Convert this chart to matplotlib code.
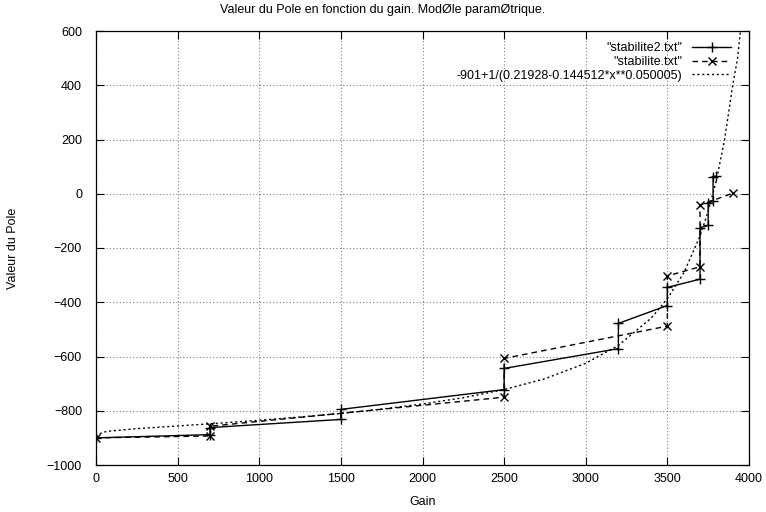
import matplotlib
matplotlib.use("Agg")
import matplotlib.pyplot as plt

# "stabilite2.txt"
gain2 = [0, 700, 700, 1500, 1500, 2500, 2500, 3200, 3200, 3500, 3500,
         3700, 3700, 3750, 3750, 3780, 3780, 3800]
pole2 = [-900, -888, -862, -832, -795, -722, -644, -571, -478, -412, -345,
         -315, -125, -117, -35, -27, 62, 65]

# "stabilite.txt"
gain1 = [0, 700, 700, 2500, 2500, 3500, 3500, 3700, 3700, 3900]
pole1 = [-900, -893, -857, -750, -607, -488, -303, -269, -42, 2]

# fitted model curve
fit_x = [0, 40, 100, 250, 500, 750, 1000, 1250, 1500, 1750, 2000, 2250,
         2500, 2750, 3000, 3200, 3400, 3500, 3600, 3700, 3750, 3800,
         3850, 3900, 3930, 3970]
fit_y = [-896, -879, -874, -866, -856, -846, -835, -823, -810, -794, -775,
         -752, -722, -682, -625, -559, -459, -387, -292, -156, -65, 49,
         198, 399, 500, 730]

fit_label = "-901+1/(0.21928-0.144512*x**0.050005)"

plt.rcParams["font.family"] = ["Liberation Sans", "DejaVu Sans"]
plt.rcParams["font.size"] = 9

fig = plt.figure(figsize=(7.66, 5.12), dpi=100)
ax = fig.add_axes([96 / 766, 1 - 465 / 512, 653 / 766, 434 / 512])

ax.plot(gain2, pole2, "-", color="black", lw=1.0, marker="+", ms=7,
        mew=1.0, label='"stabilite2.txt"')
ax.plot(gain1, pole1, color="black", lw=1.0, ls=(0, (4, 3)), marker="x",
        ms=6, mew=1.0, label='"stabilite.txt"')
ax.plot(fit_x, fit_y, color="black", lw=1.0, ls=(0, (1.5, 2)), label=fit_label)

ax.set_xlim(0, 4000)
ax.set_ylim(-1000, 600)
ax.set_xticks(range(0, 4001, 500))
ax.set_yticks(range(-1000, 601, 200))
ax.tick_params(direction="in", top=True, right=True, length=6, width=0.8,
               labelsize=9)
ax.tick_params(axis="x", pad=6)
ax.tick_params(axis="y", pad=10)
ax.grid(True, color="#808080", ls=(0, (1, 2)), lw=0.8)
for s in ax.spines.values():
    s.set_linewidth(0.9)

ax.set_xlabel("Gain", fontsize=9, labelpad=8)
ax.set_ylabel("Valeur du Pole", fontsize=9, labelpad=20)

fig.text(0.5, 1 - 10 / 512, "Valeur du Pole en fonction du gain. Mod\u00d8le param\u00d8trique.",
         ha="center", va="center", fontsize=9)

ax.legend(loc="upper right", bbox_to_anchor=(0.982, 0.989), frameon=False,
          markerfirst=False, borderpad=0, handlelength=3.1, handletextpad=0.8,
          labelspacing=0.15, numpoints=1, fontsize=9)

fig.savefig("out.png", dpi=100)
